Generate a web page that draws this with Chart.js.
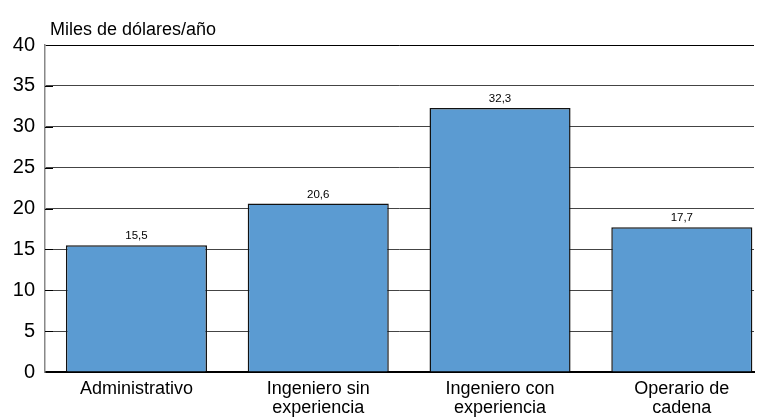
<!DOCTYPE html>
<html>
<head>
<meta charset="utf-8">
<script src="https://cdn.jsdelivr.net/npm/chart.js@4/dist/chart.umd.min.js"></script>
<style>
  html, body { margin: 0; padding: 0; background: #fff; }
  #wrap { width: 762px; height: 418px; }
</style>
</head>
<body>
<div id="wrap"><canvas id="salaryChart" width="762" height="418"></canvas></div>
<script>
var categories = ['Administrativo', ['Ingeniero sin', 'experiencia'], ['Ingeniero con', 'experiencia'], ['Operario de', 'cadena']];
var salaries = [15.5, 20.6, 32.3, 17.7];
var yTicks = [0, 5, 10, 15, 20, 25, 30, 35, 40];
var axisTitle = 'Miles de dólares/año';

var FONT = "'Liberation Sans', Arial, sans-serif";

function toPoints() {
    let pts = [];
    for (var i = 0; i < salaries.length; i++)
        pts.push({ x: i, y: salaries[i] });
    return pts;
}

// value labels above each bar, short inner ticks, unit text at the top left
var labelPlugin = {
    id: 'labels',
    afterDatasetsDraw: function (chart) {
        let ctx = chart.ctx;
        let meta = chart.getDatasetMeta(0);
        let y = chart.scales.y;
        let left = chart.chartArea.left;
        ctx.save();
        ctx.strokeStyle = '#000';
        ctx.lineWidth = 1;
        yTicks.forEach(function (v) {
            if (v === 0 || v === 40) return;
            let py = Math.round(y.getPixelForValue(v)) + 0.5;
            ctx.beginPath();
            ctx.moveTo(left, py);
            ctx.lineTo(left + 8, py);
            ctx.stroke();
        });
        ctx.fillStyle = '#000';
        ctx.font = '11.5px ' + FONT;
        ctx.textAlign = 'center';
        ctx.textBaseline = 'alphabetic';
        meta.data.forEach(function (bar, i) {
            ctx.fillText(salaries[i].toFixed(1).replace('.', ','), bar.x, bar.y - 6);
        });
        ctx.font = '18px ' + FONT;
        ctx.textAlign = 'left';
        ctx.fillText(axisTitle, 50, 35);
        ctx.restore();
    }
};

var ctx = document.getElementById('salaryChart').getContext('2d');
var salaryChart = new Chart(ctx, {
    type: 'bar',
    data: {
        datasets: [{
            data: toPoints(),
            backgroundColor: '#5b9bd2',
            borderColor: '#111',
            borderWidth: 1.5,
            barPercentage: 0.776,
            categoryPercentage: 1
        }]
    },
    options: {
        responsive: false,
        animation: false,
        layout: { padding: { top: 45, right: 8, left: 0, bottom: 0 } },
        plugins: { legend: { display: false }, tooltip: { enabled: false } },
        scales: {
            x: {
                type: 'linear',
                offset: false,
                min: -0.503,
                max: 3.397,
                afterBuildTicks: function (scale) {
                    scale.ticks = [0, 1, 2, 3].map(function (v) { return { value: v }; });
                },
                afterFit: function (scale) { scale.height = 46; },
                grid: { display: false, offset: false },
                border: { color: '#000', width: 2 },
                ticks: {
                    autoSkip: false,
                    maxRotation: 0,
                    padding: 0,
                    color: '#000',
                    font: { family: FONT, size: 18, lineHeight: 1.05 },
                    callback: function (v) { return categories[v]; }
                }
            },
            y: {
                min: 0,
                max: 40,
                afterBuildTicks: function (scale) {
                    scale.ticks = yTicks.map(function (v) { return { value: v }; });
                },
                afterFit: function (scale) { scale.width = 45; },
                grid: {
                    color: function (c) { return c.tick && c.tick.value === 40 ? '#000' : '#444'; },
                    lineWidth: 1,
                    drawTicks: false
                },
                border: { color: '#888', width: 1.5 },
                ticks: {
                    padding: 10,
                    color: '#000',
                    font: { family: FONT, size: 20 }
                }
            }
        }
    },
    plugins: [labelPlugin]
});
</script>
</body>
</html>
